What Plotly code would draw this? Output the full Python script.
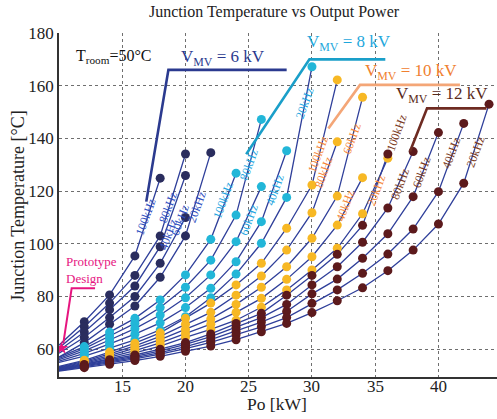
import plotly.graph_objects as go

# ---------------- data ----------------
POWER_KW = [12, 14, 16, 18, 20, 22, 24, 26, 28, 30, 32, 34, 36, 38, 40, 42, 44]
FREQ_LABELS = ["100kHz", "80kHz", "60kHz", "40kHz", "20kHz"]
P_START = 10  # curves enter from the left edge
X_TICKS = [15, 20, 25, 30, 35, 40]
Y_TICKS = [60, 80, 100, 120, 140, 160, 180]

# start temperature of each curve at P_START (100, 80, 60, 40, 20 kHz)
T0_6KV = [61.5, 60.5, 59.5, 58.5, 57.0]
T0_8KV = [57.0, 56.5, 56.0, 55.5, 55.0]
T0_10KV = [53.5, 53.2, 53.0, 52.8, 52.5]
T0_12KV = [52.5, 52.3, 52.1, 51.9, 51.7]

# junction temperature at POWER_KW[0], POWER_KW[1], ... (100, 80, 60, 40, 20 kHz)
TJ_6KV = [
    [70.4, 80.6, 95.4, 124.9],
    [68.5, 77.5, 88.0, 103.0, 134.1],
    [66.5, 75.0, 84.0, 98.9, 125.9],
    [64.5, 72.0, 80.0, 92.6, 110.0],
    [62.5, 69.5, 76.4, 87.3, 103.0, 134.6],
]
TJ_8KV = [
    [61.0, 66.5, 71.7, 78.7, 88.2, 101.7, 126.8],
    [60.2, 65.0, 69.8, 75.8, 83.5, 93.8, 110.9, 147.2],
    [59.4, 63.5, 67.8, 73.0, 79.5, 88.2, 100.8, 121.7],
    [58.4, 62.0, 65.7, 70.0, 75.8, 83.1, 93.2, 108.4, 135.3],
    [57.4, 60.4, 63.5, 67.3, 72.3, 79.5, 88.5, 100.2, 117.6, 167.2],
]
TJ_10KV = [
    [55.8, 58.9, 62.3, 66.2, 71.7, 77.5, 84.4, 92.6, 105.9, 122.3, 162.2],
    [55.4, 58.2, 61.3, 64.9, 69.5, 74.0, 80.5, 87.8, 97.6, 111.8, 138.7],
    [55.0, 57.6, 60.4, 63.6, 67.5, 71.5, 77.0, 83.5, 91.3, 102.1, 118.1, 155.6],
    [54.6, 57.0, 59.5, 62.4, 66.0, 69.5, 74.0, 79.3, 86.5, 95.1, 107.1, 125.1],
    [54.2, 56.4, 58.6, 61.2, 64.5, 67.5, 71.0, 75.9, 82.5, 90.1, 98.3, 111.4, 132.5],
]
TJ_12KV = [
    [54.2, 56.0, 57.8, 60.0, 62.5, 65.8, 69.8, 73.6, 80.5, 88.0, 96.0, 107.0, 134.1],
    [53.9, 55.6, 57.3, 59.4, 61.8, 64.8, 68.3, 72.0, 77.0, 84.4, 91.3, 100.6, 113.6, 135.0],
    [53.6, 55.2, 56.8, 58.7, 61.0, 63.6, 66.8, 70.3, 74.3, 81.0, 86.6, 94.5, 103.8, 117.9, 142.2],
    [53.3, 54.8, 56.3, 58.1, 60.2, 62.6, 65.5, 68.5, 72.0, 77.4, 82.5, 88.8, 96.1, 105.6, 119.8, 145.7],
    [53.0, 54.3, 55.7, 57.3, 59.2, 61.2, 63.6, 66.6, 69.8, 73.9, 78.4, 83.3, 89.8, 97.6, 107.5, 123.0, 153.0],
]

PROTOTYPE_P = [10.2]
PROTOTYPE_T = [60.4]

# ---------------- styling ----------------
FONT = "Liberation Serif, Times New Roman, serif"
LINE_COLOR = "#2f3f9a"
GROUPS = [
    dict(name="6 kV", tj=TJ_6KV, t0=T0_6KV, dot="#2a2d5e", lab="#2f4fbf", leg="#2b3a8f", br="#2b3a8f"),
    dict(name="8 kV", tj=TJ_8KV, t0=T0_8KV, dot="#22b6d8", lab="#1fa6e0", leg="#1ea7dc", br="#1a9fc9"),
    dict(name="10 kV", tj=TJ_10KV, t0=T0_10KV, dot="#f7b824", lab="#f5873a", leg="#f08030", br="#f4a677"),
    dict(name="12 kV", tj=TJ_12KV, t0=T0_12KV, dot="#5c1a1c", lab="#7a3a22", leg="#5a2a1a", br="#6e2b22"),
]

# frequency label positions (per group, order 100..20 kHz)
FREQ_LABEL_POS = [
    [(16.86, 110.1), (18.64, 113.9), (19.57, 109.0), (18.64, 103.7), (20.9, 113.9)],
    [(22.99, 116.6), (25.0, 129.9), (25.0, 109.0), (27.07, 120.4), (29.45, 153.3)],
    [(30.5, 134.0), (30.95, 127.1), (33.2, 140.0), (32.6, 114.5), (35.1, 120.4)],
    [(36.7, 142.0), (36.96, 122.7), (38.7, 127.1), (41.04, 134.3), (42.9, 135.0)],
]
# voltage callouts: bracket polyline and label centre
CALLOUTS = [
    dict(path=[(16.9, 116), (18.65, 166), (28.0, 166)], text=(23.0, 170.5)),
    dict(path=[(24.8, 134), (29.8, 170), (35.8, 170)], text=(32.9, 176.2)),
    dict(path=[(31.3, 143.8), (33.8, 160.3), (41.7, 160.3)], text=(37.8, 165.2)),
    dict(path=[(37.75, 135), (39.1, 151.4), (43.8, 151.4)], text=(40.3, 156.5)),
]
PROTO_PATH = [(12.85, 83.1), (11.0, 83.1), (10.34, 62.2)]

fig = go.Figure()

# curves
for g in GROUPS:
    for t0, tj in zip(g["t0"], g["tj"]):
        fig.add_trace(go.Scatter(
            x=[P_START] + POWER_KW[:len(tj)], y=[t0] + tj, mode="lines",
            line=dict(color=LINE_COLOR, width=1.3), hoverinfo="skip", showlegend=False))

# markers
for g in GROUPS:
    xs, ys = [], []
    for tj in g["tj"]:
        xs += POWER_KW[:len(tj)]
        ys += tj
    fig.add_trace(go.Scatter(x=xs, y=ys, mode="markers", name=g["name"],
                             marker=dict(color=g["dot"], size=9), showlegend=False))

annotations = []
for g, pos_list, co in zip(GROUPS, FREQ_LABEL_POS, CALLOUTS):
    for lab, (px, py) in zip(FREQ_LABELS, pos_list):
        annotations.append(dict(x=px, y=py, text=lab, showarrow=False, textangle=-70,
                                xanchor="center", yanchor="middle",
                                font=dict(family=FONT, size=12, color=g["lab"])))
    bx = [p[0] for p in co["path"]]
    by = [p[1] for p in co["path"]]
    fig.add_trace(go.Scatter(x=bx, y=by, mode="lines", line=dict(color=g["br"], width=2.6),
                             hoverinfo="skip", showlegend=False))
    annotations.append(dict(x=co["text"][0], y=co["text"][1], xanchor="center",
                            text="V<sub>MV</sub> = " + g["name"], showarrow=False,
                            font=dict(family=FONT, size=17, color=g["leg"])))

# prototype design
fig.add_trace(go.Scatter(x=[p[0] for p in PROTO_PATH], y=[p[1] for p in PROTO_PATH], mode="lines",
                         line=dict(color="#e6157f", width=2), hoverinfo="skip", showlegend=False))
fig.add_trace(go.Scatter(x=PROTOTYPE_P, y=PROTOTYPE_T, mode="markers",
                         marker=dict(symbol="star", color="#e6157f", size=10), showlegend=False))
annotations.append(dict(x=10.4, y=90.2, xanchor="left", text="Prototype<br>Design", showarrow=False,
                        align="left", font=dict(family=FONT, size=13, color="#e6157f")))
annotations.append(dict(x=14.35, y=170.9, xanchor="center", text="T<sub>room</sub>=50°C",
                        showarrow=False, font=dict(family=FONT, size=16, color="#111111")))

# x tick labels, placed just under the axis
for t in X_TICKS:
    annotations.append(dict(x=t, xref="x", yref="paper", y=-0.0262, xanchor="center",
                            yanchor="middle", text=str(t), showarrow=False,
                            font=dict(family=FONT, size=17, color="#222222")))

# titles
annotations.append(dict(xref="paper", yref="paper", x=0.491, y=1.061, xanchor="center",
                        yanchor="middle", text="Junction Temperature vs Output Power",
                        showarrow=False, font=dict(family=FONT, size=16, color="#222222")))
annotations.append(dict(xref="paper", yref="paper", x=-0.094, y=0.497, xanchor="center",
                        yanchor="middle", textangle=-90, text="Junction Temperature [°C]",
                        showarrow=False, font=dict(family=FONT, size=18, color="#222222")))
annotations.append(dict(xref="paper", yref="paper", x=0.498, y=-0.0785, xanchor="center",
                        yanchor="middle", text="Po [kW]", showarrow=False,
                        font=dict(family=FONT, size=17.5, color="#222222")))

fig.update_layout(
    width=497, height=419,
    margin=dict(l=59, r=0, t=33, b=42, autoexpand=False),
    paper_bgcolor="white", plot_bgcolor="white",
    annotations=annotations,
    xaxis=dict(range=[10, 44.63], tickvals=X_TICKS, showticklabels=False, showgrid=True,
               gridcolor="#6f6f6f", griddash="dot", gridwidth=1.3, zeroline=False,
               showline=True, linecolor="#333333", linewidth=1.5, ticks=""),
    yaxis=dict(range=[49.45, 180], tickvals=Y_TICKS, showgrid=True,
               gridcolor="#6f6f6f", griddash="dot", gridwidth=1.3, zeroline=False,
               showline=True, linecolor="#333333", linewidth=1.5, ticks="", ticklen=0,
               tickfont=dict(family=FONT, size=17, color="#222222")),
)

fig.write_html("out.html", config={"displayModeBar": False},
               post_script="document.body.style.margin='0px';")
